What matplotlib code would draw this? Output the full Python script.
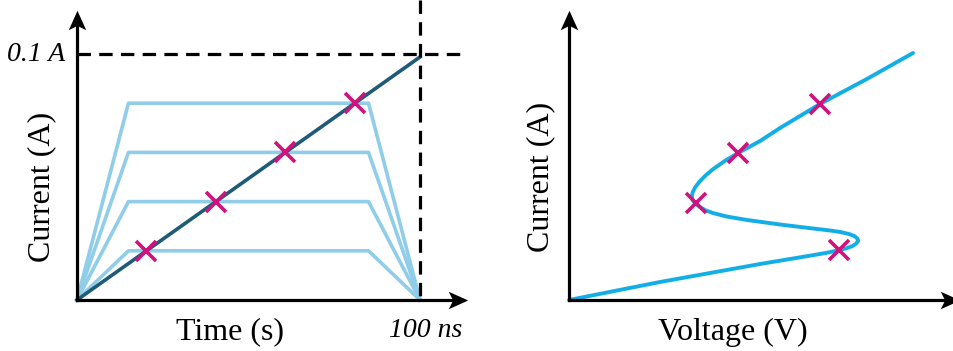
import matplotlib
matplotlib.use("Agg")
import matplotlib.pyplot as plt
from matplotlib.path import Path
from matplotlib.transforms import offset_copy

plt.rcParams['font.family'] = ['Liberation Serif', 'DejaVu Serif']

# left panel: TLP pulses (time in ns, current in A)
pulse_t = [0, 15, 85, 100]
pulse_levels = [0.02, 0.04, 0.06, 0.08]
ramp_t = [0, 100]
ramp_i = [0, 0.0988]
marker_t = [20.2, 40.5, 60.7, 81.0]
marker_i = [0.02, 0.04, 0.06, 0.08]
i_max = 0.1
t_max = 100

# right panel: snapback I-V curve (arbitrary units)
iv_v = [0.0, 2.6, 5.46, 7.0, 7.37, 7.74, 7.95, 8.1, 8.2, 8.26, 8.24, 8.15, 8.0,
        7.75, 7.46, 6.97, 6.03, 5.09, 4.5, 4.11, 3.88, 3.72, 3.6, 3.53, 3.51,
        3.53, 3.6, 3.72, 3.9, 4.12, 4.45, 4.83, 5.46, 6.03, 7.17, 8.51, 9.83]
iv_i = [0.0, 0.72, 1.44, 1.8, 1.89, 2.0, 2.08, 2.16, 2.25, 2.36, 2.46, 2.56, 2.64,
        2.72, 2.78, 2.86, 3.02, 3.2, 3.34, 3.48, 3.6, 3.74, 3.88, 4.0, 4.14,
        4.3, 4.5, 4.72, 4.98, 5.24, 5.56, 5.88, 6.36, 6.88, 7.84, 8.84, 9.88]
iv_mark_v = [7.71, 3.63, 4.83, 7.17]
iv_mark_i = [2.0, 3.88, 5.88, 7.84]

DARK = '#1d5b78'
LIGHT = '#8fcde9'
CYAN = '#14aee6'
MAGENTA = '#d0137c'

W, H = 954, 351
fig = plt.figure(figsize=(W / 100, H / 100), dpi=100)

# stealth style arrow heads
head_r = Path([(1, 0), (-1, 0.9), (-0.55, 0), (-1, -0.9), (1, 0)],
              [Path.MOVETO, Path.LINETO, Path.LINETO, Path.LINETO, Path.CLOSEPOLY])
head_u = Path([(0, 1), (0.9, -1), (0, -0.55), (-0.9, -1), (0, 1)],
              [Path.MOVETO, Path.LINETO, Path.LINETO, Path.LINETO, Path.CLOSEPOLY])


def make_axes(x0, x1, y0, y1):
    ax = fig.add_axes([x0 / W, 1 - y0 / H, (x1 - x0) / W, (y0 - y1) / H])
    for s in ax.spines.values():
        s.set_visible(False)
    ax.set_xticks([])
    ax.set_yticks([])
    ax.patch.set_alpha(0)
    ax.plot([0, 0.98], [0, 0], color='black', lw=2.3, transform=ax.transAxes,
            clip_on=False, zorder=5, solid_capstyle='projecting')
    ax.plot([0, 0], [0, 0.97], color='black', lw=2.3, transform=ax.transAxes,
            clip_on=False, zorder=5, solid_capstyle='projecting')
    tr = offset_copy(ax.transAxes, fig=fig, x=-9.5, y=0, units='dots')
    ax.plot([1], [0], marker=head_r, ms=14, color='black', mew=0,
            transform=tr, clip_on=False, zorder=6)
    tu = offset_copy(ax.transAxes, fig=fig, x=0, y=-9.5, units='dots')
    ax.plot([0], [1], marker=head_u, ms=14, color='black', mew=0,
            transform=tu, clip_on=False, zorder=6)
    return ax


# ---- left panel
ax1 = make_axes(77, 468, 300, 10)
ax1.set_xlim(0, 114)
ax1.set_ylim(0, 0.1179)

for lev in pulse_levels:
    ax1.plot(pulse_t, [0, lev, lev, 0], color=LIGHT, lw=2.6, zorder=2,
             clip_on=False)
ax1.plot(ramp_t, ramp_i, color=DARK, lw=2.6, zorder=3, clip_on=False)
ax1.plot(marker_t, marker_i, ls='none', marker='x', ms=15, mew=2.6,
         color=MAGENTA, zorder=4)

ax1.plot([0, 113], [i_max, i_max], color='black', lw=2.3, dashes=(4.2, 2.6),
         clip_on=False, zorder=4)
ax1.plot([t_max, t_max], [0.122, 0], color='black', lw=2.3, dashes=(4.2, 2.6),
         clip_on=False, zorder=4)

ax1.text(-3.5, i_max, '0.1 A', ha='right', va='center', fontsize=20,
         style='italic')
ax1.text(101.5, -0.0123, '100 ns', ha='center', va='center', fontsize=20,
         style='italic')
ax1.text(44.6, -0.0158, 'Time (s)', ha='center', va='baseline', fontsize=23)
ax1.text(-10.4, 0.0459, 'Current (A)', ha='center', va='center', fontsize=23,
         rotation=90)

# ---- right panel
ax2 = make_axes(569, 960, 300, 10)
ax2.set_xlim(0, (960 - 569) / 35)
ax2.set_ylim(0, 11.6)

ax2.plot(iv_v, iv_i, color=CYAN, lw=2.8, solid_joinstyle='round',
         solid_capstyle='round', zorder=2, clip_on=False)
ax2.plot(iv_mark_v, iv_mark_i, ls='none', marker='x', ms=15, mew=2.6,
         color=MAGENTA, zorder=4)

ax2.text(4.69, -1.6, 'Voltage (V)', ha='center', va='baseline', fontsize=23)
ax2.text(-0.8, 4.92, 'Current (A)', ha='center', va='center', fontsize=23,
         rotation=90)

fig.savefig('out.png', dpi=100)
